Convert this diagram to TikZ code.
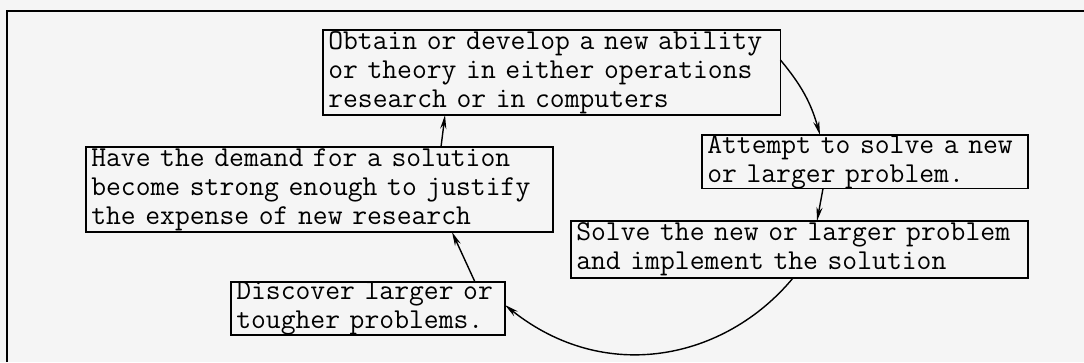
\documentclass[tikz,border=0pt]{standalone}
\usepackage{fontspec}
\setmonofont{Latin Modern Mono}
\usetikzlibrary{arrows.meta,calc}
\tikzset{
    stepbox/.style={draw,anchor=north west,align=left,inner xsep=3pt,inner ysep=0pt,
        outer sep=0pt,font=\ttfamily\fontsize{16.4}{16.5}\selectfont},
    link/.style={-{Stealth[length=8pt,width=3.5pt]}},
}
\begin{document}
\begin{tikzpicture}[x=0.02cm,y=-0.02cm,line width=0.8pt]
    \fill[black!4] (0,0) rectangle (1084,362);
    \useasboundingbox (0,0) rectangle (1084,362);
    \draw (7,362) -- (7,11) -- (1084,11); % frame
    \node[stepbox,text width=8.94cm,minimum height=1.7cm] (obtain) at (323,30)
        {Obtain or develop a new ability\\or theory in either operations\\research or in computers};
    \node[stepbox,text width=6.31cm,minimum height=1.06cm] (attempt) at (702,135)
        {Attempt to solve a new\\or larger problem.};
    \node[stepbox,text width=8.93cm,minimum height=1.14cm] (solve) at (571,221)
        {Solve the new or larger problem\\and implement the solution};
    \node[stepbox,text width=9.13cm,minimum height=1.7cm] (demand) at (86,147)
        {Have the demand for a solution\\become strong enough to justify\\the expense of new research};
    \node[stepbox,text width=5.27cm,minimum height=1.0cm] (discover) at (231,282)
        {Discover larger or\\tougher problems.};
    % cycle
    \draw[link] ($(obtain.north east)+(0,30)$) to[bend left=12] ($(attempt.north west)+(118,0)$);
    \draw[link] ($(attempt.south west)+(121,0)$) -- ($(solve.north west)+(246,0)$);
    \draw[link] ($(solve.south west)+(222,0)$) .. controls (725,360) and (605,385) .. ($(discover.north east)+(0,23)$);
    \draw[link] ($(discover.north west)+(244,0)$) -- ($(demand.south west)+(366,0)$);
    \draw[link] ($(demand.north west)+(355,0)$) -- ($(obtain.south west)+(122,0)$);
\end{tikzpicture}
\end{document}
